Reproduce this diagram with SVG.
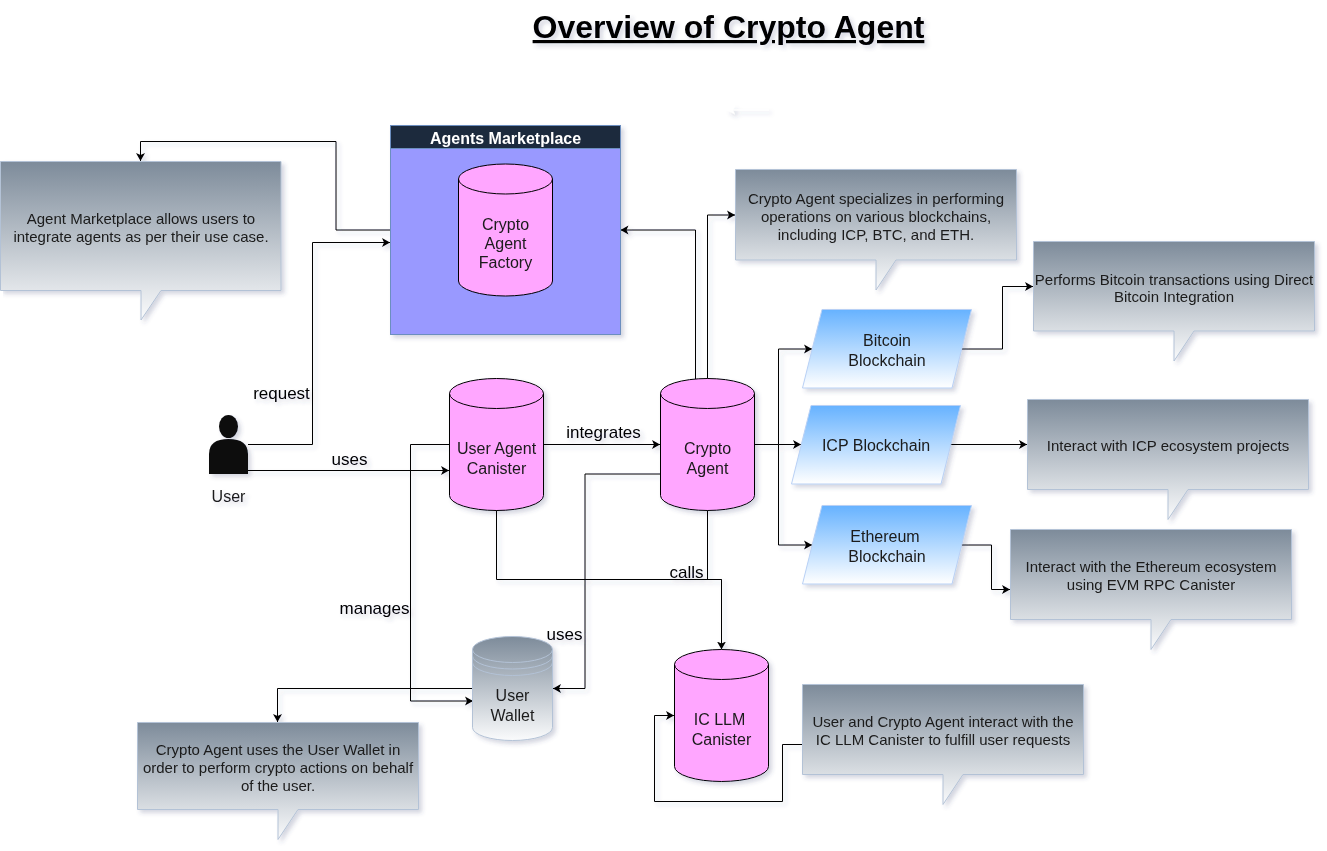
<svg xmlns="http://www.w3.org/2000/svg" width="1327" height="851" viewBox="0 0 1327 851">
<style>
text{font-family:"Liberation Sans",Arial,sans-serif;font-size:16px;fill:#1a1a1a;text-anchor:middle}
.c text{font-size:15px}
.lbl{font-size:17px;fill:#000}
.cn{fill:none;stroke:#000;stroke-width:1;marker-end:url(#ah)}
.nm{fill:none;stroke:#000;stroke-width:1}
.cal{fill:url(#gr);stroke:#b3c2d6;stroke-width:1}
.par{fill:url(#bl);stroke:#b8d0f5;stroke-width:1}
.cyl{fill:#ffa6ff;stroke:#000;stroke-width:1}
.lid{fill:none;stroke:#000;stroke-width:1}
</style>
<defs>
<linearGradient id="gr" x1="0" y1="0" x2="0" y2="1"><stop offset="0" stop-color="#7d8b9a"/><stop offset="1" stop-color="#fafbfc"/></linearGradient>
<linearGradient id="bl" x1="0" y1="0" x2="0" y2="1"><stop offset="0" stop-color="#66b2ff"/><stop offset="1" stop-color="#ffffff"/></linearGradient>
<marker id="ah" markerUnits="userSpaceOnUse" markerWidth="10" markerHeight="10" viewBox="0 0 10 10" refX="8" refY="5" orient="auto"><path d="M8 5L0 0.500L2 5L0 9.500Z" fill="#000"/></marker>
<marker id="ahw" markerUnits="userSpaceOnUse" markerWidth="10" markerHeight="10" viewBox="0 0 10 10" refX="8" refY="5" orient="auto"><path d="M8 5L0 0.500L2 5L0 9.500Z" fill="#fff"/></marker>
<filter id="sh" filterUnits="userSpaceOnUse" x="0" y="0" width="1327" height="851"><feGaussianBlur in="SourceAlpha" stdDeviation="2" result="b"/><feOffset in="b" dx="3" dy="3" result="o"/><feFlood flood-color="#3D4574" flood-opacity="0.22" result="f"/><feComposite in="f" in2="o" operator="in" result="s"/><feBlend in="SourceGraphic" in2="s"/></filter>
</defs>
<g filter="url(#sh)">
<g id="connectors">
<path class="cn" d="M390 230H336V141.500H140.500V161"/>
<path class="cn" d="M248 444.500H312.500V242.500H390"/>
<path class="cn" d="M248 470.500H449"/>
<path class="cn" d="M449 444.500H410.500V701H473"/>
<path class="cn" d="M543.500 444.500H660"/>
<path class="nm" d="M496.500 510V579.500H721.500"/>
<path class="cn" d="M707.500 510V579.500H721.500V649.500"/>
<path class="cn" d="M660 474H585V688.500H553"/>
<path class="cn" d="M695.500 379V230H620.500"/>
<path class="cn" d="M707.500 379V215H735"/>
<path class="nm" d="M754 444.500H778.500"/>
<path class="cn" d="M778.500 444.500V349H812"/>
<path class="cn" d="M778.500 444.500H801"/>
<path class="cn" d="M778.500 444.500V545H812"/>
<path class="cn" d="M962 349H1002.500V286.500H1033"/>
<path class="cn" d="M950 444.500H1027"/>
<path class="cn" d="M961 545H991.500V589.500H1010"/>
<path class="cn" d="M472 688.500H277.500V722"/>
<path class="cn" d="M802 744.500H782.500V801.500H654.500V715.500H674"/>
<path d="M769 110H727" fill="none" stroke="#fff" stroke-width="1" marker-end="url(#ahw)"/>
</g>
<g id="title"><text x="728.500" y="38" style="font-size:32px;font-weight:bold;text-decoration:underline;fill:#000">Overview of Crypto Agent</text></g>
<g id="marketplace">
<rect x="390.500" y="125.500" width="230" height="209" fill="#9999ff" stroke="#6c8ebf"/>
<rect x="390.500" y="125.500" width="230" height="23" fill="#1e2a3d" stroke="#6c8ebf"/>
<text x="505.500" y="144" style="font-weight:bold;fill:#fff">Agents Marketplace</text>
</g>
<g id="factory">
<path class="cyl" d="M458.500 179a47 15 0 0 1 94 0V281a47 15 0 0 1-94 0Z"/>
<path class="lid" d="M458.500 179a47 15 0 0 0 94 0"/>
<text x="505.500" y="230">Crypto</text><text x="505.500" y="249">Agent</text><text x="505.500" y="268">Factory</text>
</g>
<g id="user">
<ellipse cx="228.500" cy="426.500" rx="9.500" ry="11.500" fill="#0f0f0f"/>
<path d="M209 474V454Q209 439 228.500 439Q248 439 248 454V474Z" fill="#0f0f0f"/>
<text x="228.500" y="502">User</text>
</g>
<g id="user-agent">
<path class="cyl" d="M449.500 393.500a47 15 0 0 1 94 0V495.500a47 15 0 0 1-94 0Z"/>
<path class="lid" d="M449.500 393.500a47 15 0 0 0 94 0"/>
<text x="496.500" y="454">User Agent</text><text x="496.500" y="474">Canister</text>
</g>
<g id="crypto-agent">
<path class="cyl" d="M660.500 393.500a47 15 0 0 1 94 0V495.500a47 15 0 0 1-94 0Z"/>
<path class="lid" d="M660.500 393.500a47 15 0 0 0 94 0"/>
<text x="707.500" y="454">Crypto</text><text x="707.500" y="474">Agent</text>
</g>
<g id="ic-llm">
<path class="cyl" d="M674.500 664.500a47 15 0 0 1 94 0V766.500a47 15 0 0 1-94 0Z"/>
<path class="lid" d="M674.500 664.500a47 15 0 0 0 94 0"/>
<text x="719.500" y="725">IC LLM</text><text x="721.500" y="745">Canister</text>
</g>
<g id="wallet">
<path d="M472.500 649.500a40 13 0 0 1 80 0V727.500a40 13 0 0 1-80 0Z" fill="url(#gr)" stroke="#b3c2d6"/>
<path d="M472.500 649.500a40 13 0 0 0 80 0M472.500 656a40 13 0 0 0 80 0M472.500 662.500a40 13 0 0 0 80 0" fill="none" stroke="#b3c2d6"/>
<text x="512.500" y="701">User</text><text x="512.500" y="721">Wallet</text>
</g>
<g id="bitcoin"><path class="par" d="M802.500 388L822 309.500H971.500L952 388Z"/><text x="887" y="346">Bitcoin</text><text x="887" y="366">Blockchain</text></g>
<g id="icp"><path class="par" d="M791.500 484L811 405.500H960.500L941 484Z"/><text x="876" y="451">ICP Blockchain</text></g>
<g id="ethereum"><path class="par" d="M802.500 584L822 505.500H971.500L952 584Z"/><text x="885" y="542">Ethereum</text><text x="887" y="562">Blockchain</text></g>
<g id="note-marketplace" class="c"><path class="cal" d="M0.500 161.500H281V290.500H161L141 320V290.500H0.500Z"/><text x="141" y="224">Agent Marketplace allows users to</text><text x="141" y="242">integrate agents as per their use case.</text></g>
<g id="note-crypto" class="c"><path class="cal" d="M735.500 169.500H1016.500V260H896L876 290V260H735.500Z"/><text x="876" y="204">Crypto Agent specializes in performing</text><text x="876" y="222">operations on various blockchains,</text><text x="876" y="240">including ICP, BTC, and ETH.</text></g>
<g id="note-bitcoin" class="c"><path class="cal" d="M1033.500 241.500H1314.500V331H1194L1174 361V331H1033.500Z"/><text x="1174" y="285">Performs Bitcoin transactions using Direct</text><text x="1174" y="302">Bitcoin Integration</text></g>
<g id="note-icp" class="c"><path class="cal" d="M1027.500 399.500H1308.500V489.500H1188L1168 519.500V489.500H1027.500Z"/><text x="1168" y="451">Interact with ICP ecosystem projects</text></g>
<g id="note-ethereum" class="c"><path class="cal" d="M1010.500 529.500H1291.500V619.500H1171L1151 649.500V619.500H1010.500Z"/><text x="1151" y="572">Interact with the Ethereum ecosystem</text><text x="1151" y="590">using EVM RPC Canister</text></g>
<g id="note-wallet" class="c"><path class="cal" d="M137.500 722.500H418.500V809.500H298L278 839.500V809.500H137.500Z"/><text x="278" y="755">Crypto Agent uses the User Wallet in</text><text x="278" y="773">order to perform crypto actions on behalf</text><text x="278" y="791">of the user.</text></g>
<g id="note-llm" class="c"><path class="cal" d="M802.500 684.500H1083.500V774.500H963L943 804.500V774.500H802.500Z"/><text x="943" y="727">User and Crypto Agent interact with the</text><text x="943" y="745">IC LLM Canister to fulfill user requests</text></g>
<g id="labels">
<text class="lbl" x="281.500" y="399">request</text>
<text class="lbl" x="349.500" y="465">uses</text>
<text class="lbl" x="603.500" y="438">integrates</text>
<text class="lbl" x="374.500" y="614">manages</text>
<text class="lbl" x="686.500" y="578">calls</text>
<text class="lbl" x="564.500" y="640">uses</text>
</g>
</g>
</svg>
